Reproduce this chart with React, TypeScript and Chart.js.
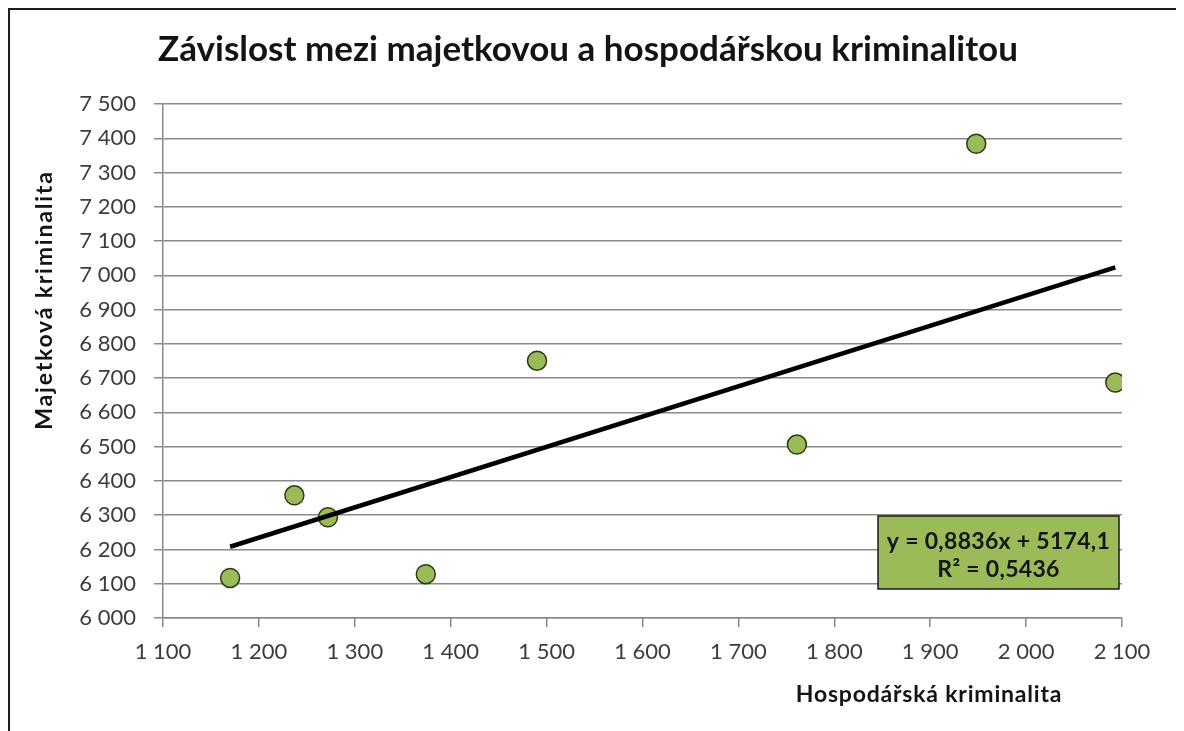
import React, { useEffect, useRef } from 'react';
import { Chart, registerables } from 'chart.js';

Chart.register(...registerables);

const TITLE = 'Závislost mezi majetkovou a hospodářskou kriminalitou';
const X_TITLE = 'Hospodářská kriminalita';
const Y_TITLE = 'Majetková kriminalita';

// Hospodářská kriminalita (x) and Majetková kriminalita (y)
const HOSPODARSKA = [1170, 1237, 1272, 1374, 1490, 1761, 1948, 2093];
const MAJETKOVA = [6117, 6358, 6294, 6128, 6751, 6506, 7384, 6687];

// Linear trendline as reported in the chart
const TREND_SLOPE = 0.8836;
const TREND_INTERCEPT = 5174.1;
const EQUATION_LINES = ['y = 0,8836x + 5174,1', 'R² = 0,5436'];

const X_TICKS = [1100, 1200, 1300, 1400, 1500, 1600, 1700, 1800, 1900, 2000, 2100];
const X_TICK_LABELS = ['1 100', '1 200', '1 300', '1 400', '1 500', '1 600', '1 700', '1 800', '1 900', '2 000', '2 100'];
const Y_TICKS = [6000, 6100, 6200, 6300, 6400, 6500, 6600, 6700, 6800, 6900, 7000, 7100, 7200, 7300, 7400, 7500];
const Y_TICK_LABELS = ['6 000', '6 100', '6 200', '6 300', '6 400', '6 500', '6 600', '6 700', '6 800', '6 900', '7 000', '7 100', '7 200', '7 300', '7 400', '7 500'];

const GRID = '#8a8a8a';
const FONT = 'Lato, "Open Sans", sans-serif';

const labelsPlugin = {
  id: 'labelsPlugin',
  afterDraw(chart: any) {
    const { ctx, chartArea } = chart;
    ctx.save();
    // Title
    ctx.fillStyle = '#141414';
    ctx.font = `bold 35px ${FONT}`;
    ctx.textAlign = 'center';
    ctx.textBaseline = 'alphabetic';
    ctx.fillText(TITLE, chart.width / 2 - 7, 51);

    // X axis title
    ctx.font = `bold 23px ${FONT}`;
    (ctx as any).letterSpacing = '0.8px';
    ctx.textBaseline = 'middle';
    ctx.fillText(X_TITLE, chartArea.right - 193, chartArea.bottom + 77);

    // Y axis title
    (ctx as any).letterSpacing = '1.8px';
    ctx.save();
    ctx.translate(35, chartArea.top + 196);
    ctx.rotate(-Math.PI / 2);
    ctx.fillText(Y_TITLE, 0, 0);
    ctx.restore();

    // Equation box
    (ctx as any).letterSpacing = '0.3px';
    const bw = 241;
    const bh = 73;
    const bx = chartArea.right - 3 - bw;
    const by = chartArea.bottom - 29 - bh;
    ctx.fillStyle = '#9BBB59';
    ctx.fillRect(bx, by, bw, bh);
    ctx.strokeStyle = '#1a1a1a';
    ctx.lineWidth = 1.5;
    ctx.strokeRect(bx, by, bw, bh);
    ctx.fillStyle = '#141414';
    ctx.font = `bold 23px ${FONT}`;
    ctx.textAlign = 'center';
    ctx.fillText(EQUATION_LINES[0], bx + bw / 2, by + 26);
    ctx.fillText(EQUATION_LINES[1], bx + bw / 2, by + 54);
    ctx.restore();
  },
};

export default function App() {
  const canvasRef = useRef<HTMLCanvasElement | null>(null);

  useEffect(() => {
    document.documentElement.style.overflow = 'hidden';
    document.body.style.overflow = 'hidden';
    const canvas = canvasRef.current;
    if (!canvas) return;

    const points = HOSPODARSKA.map((x, i) => ({ x, y: MAJETKOVA[i] }));
    const xMin = Math.min(...HOSPODARSKA);
    const xMax = Math.max(...HOSPODARSKA);
    const trend = [
      { x: xMin, y: TREND_SLOPE * xMin + TREND_INTERCEPT },
      { x: xMax, y: TREND_SLOPE * xMax + TREND_INTERCEPT },
    ];

    const chart = new Chart(canvas, {
      type: 'scatter',
      data: {
        datasets: [
          {
            type: 'line',
            label: 'Trend',
            data: trend,
            borderColor: '#000000',
            borderWidth: 4.5,
            pointRadius: 0,
            fill: false,
            order: 0,
          } as any,
          {
            label: 'Data',
            data: points,
            pointRadius: 9.5,
            pointBackgroundColor: '#9BBB59',
            pointBorderColor: '#2c3a16',
            pointBorderWidth: 1.5,
            order: 1,
          },
        ],
      },
      options: {
        responsive: true,
        maintainAspectRatio: false,
        animation: false,
        layout: { padding: { top: 94, right: 58, left: 0, bottom: 0 } },
        plugins: {
          legend: { display: false },
          tooltip: { enabled: false },
          title: { display: false },
        },
        scales: {
          x: {
            type: 'linear',
            min: 1100,
            max: 2100,
            afterBuildTicks: (scale: any) => {
              scale.ticks = X_TICKS.map((v) => ({ value: v }));
            },
            afterFit: (scale: any) => {
              scale.height = 113;
            },
            ticks: {
              color: '#3c3c3c',
              font: { family: FONT, size: 22 },
              padding: 12,
              maxRotation: 0,
              callback: (v: any) => X_TICK_LABELS[X_TICKS.indexOf(Number(v))] ?? '',
            },
            grid: {
              drawOnChartArea: false,
              drawTicks: true,
              tickLength: 9,
              color: GRID,
              lineWidth: 1.5,
            },
            border: { display: true, color: GRID, width: 1.5 },
          },
          y: {
            type: 'linear',
            min: 6000,
            max: 7500,
            afterBuildTicks: (scale: any) => {
              scale.ticks = Y_TICKS.map((v) => ({ value: v }));
            },
            afterFit: (scale: any) => {
              scale.width = 153;
            },
            ticks: {
              color: '#3c3c3c',
              font: { family: FONT, size: 22 },
              padding: 18,
              callback: (v: any) => Y_TICK_LABELS[Y_TICKS.indexOf(Number(v))] ?? '',
            },
            grid: {
              drawOnChartArea: true,
              drawTicks: true,
              tickLength: 9,
              color: GRID,
              lineWidth: 1.5,
            },
            border: { display: true, color: GRID, width: 1.5 },
          },
        },
      },
      plugins: [labelsPlugin],
    });

    return () => chart.destroy();
  }, []);

  return (
    <div
      style={{
        width: 1170,
        height: 730,
        borderLeft: '2px solid #1e1e1e',
        borderTop: '2px solid #1e1e1e',
        borderRight: '2px solid #1e1e1e',
        background: '#ffffff',
      }}
    >
      <div style={{ position: 'relative', width: 1170, height: 721 }}>
        <canvas ref={canvasRef} />
      </div>
    </div>
  );
}
